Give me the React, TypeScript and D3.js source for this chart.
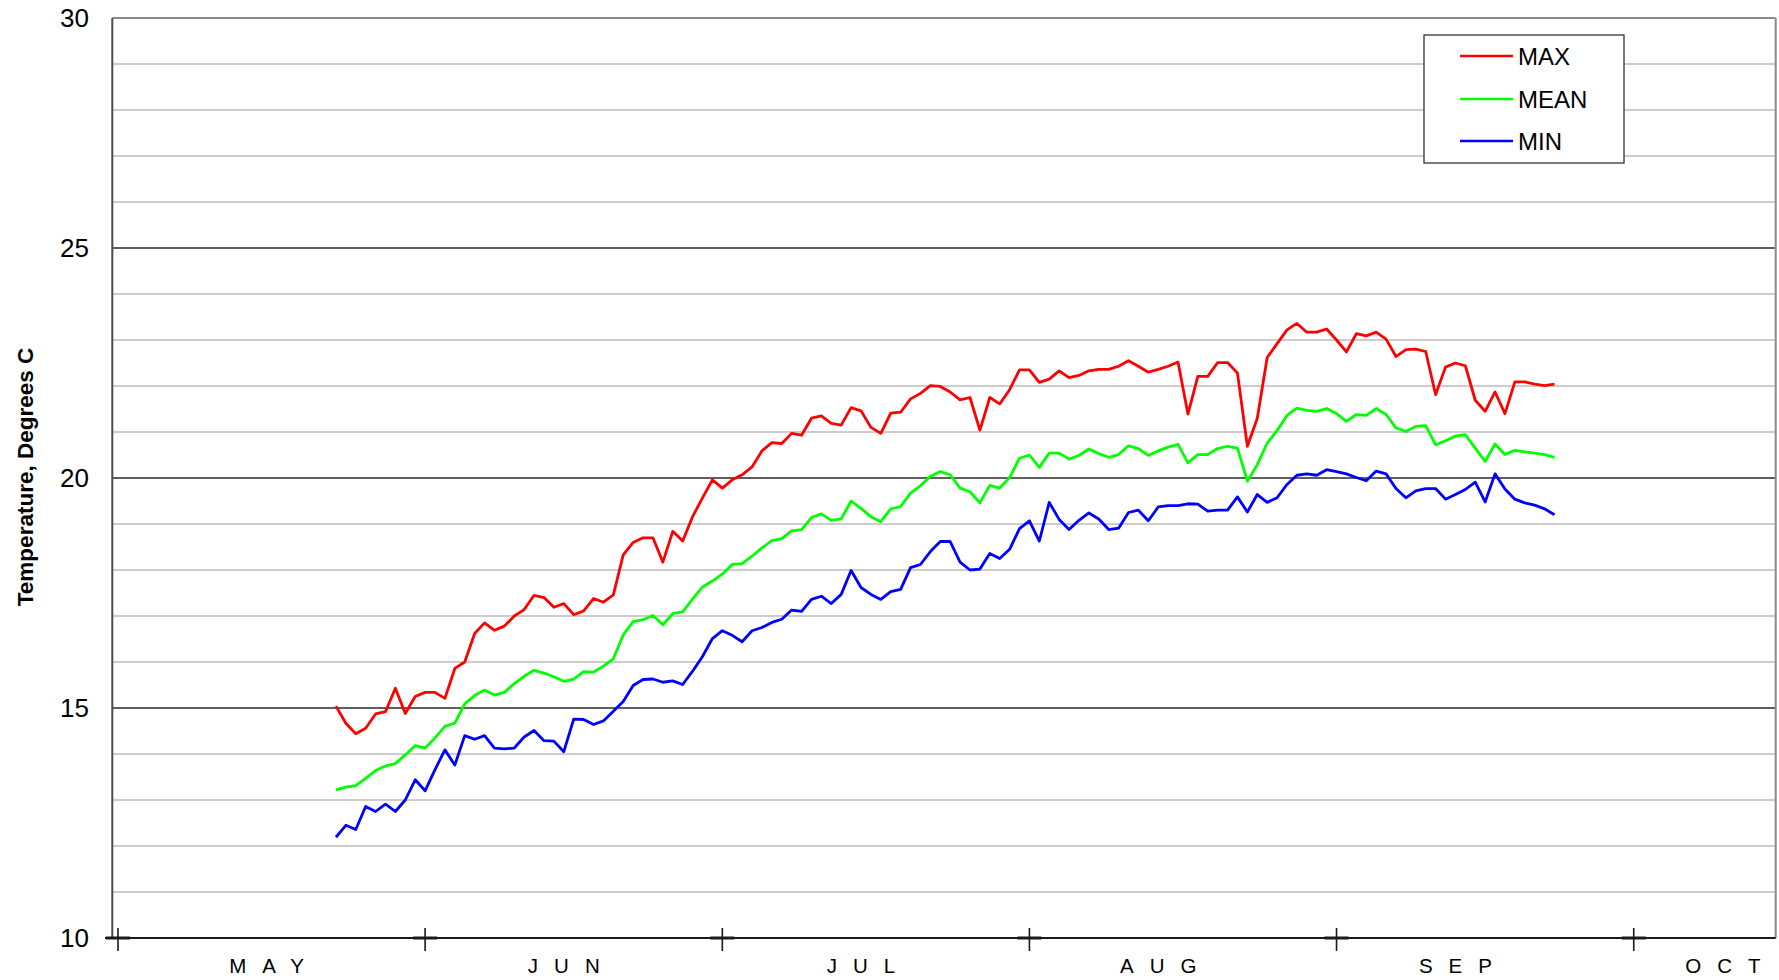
import React from "react";
import * as d3 from "d3";

// Day offsets are counted from May 1 (day 0). Data starts May 23.
const FIRST_DAY = 22;

const MAX_T = [
  15.04, 14.67, 14.44, 14.56, 14.87, 14.92, 15.43, 14.88, 15.25, 15.34,
  15.34, 15.21, 15.86, 16.0, 16.62, 16.85, 16.69, 16.78, 17.0, 17.14,
  17.45, 17.4, 17.19, 17.27, 17.03, 17.11, 17.38, 17.3, 17.46, 18.33,
  18.6, 18.7, 18.7, 18.17, 18.84, 18.63, 19.16, 19.57, 19.96, 19.78,
  19.96, 20.07, 20.24, 20.59, 20.77, 20.75, 20.97, 20.93, 21.3, 21.35,
  21.19, 21.15, 21.53, 21.46, 21.1, 20.97, 21.41, 21.43, 21.72, 21.84,
  22.01, 21.99, 21.87, 21.7, 21.75, 21.04, 21.75, 21.61, 21.92, 22.35,
  22.35, 22.08, 22.15, 22.33, 22.18, 22.23, 22.33, 22.36, 22.36, 22.43,
  22.55, 22.43, 22.3, 22.36, 22.43, 22.52, 21.39, 22.21, 22.21, 22.51,
  22.51, 22.28, 20.69, 21.3, 22.62, 22.92, 23.22, 23.36, 23.17, 23.17,
  23.24, 23.0, 22.74, 23.14, 23.09, 23.17, 23.02, 22.64, 22.79, 22.8,
  22.75, 21.81, 22.41, 22.5, 22.44, 21.69, 21.45, 21.87, 21.4, 22.09,
  22.09, 22.04, 22.01, 22.04,
];

const MEAN_T = [
  13.22, 13.28, 13.31, 13.47, 13.64, 13.74, 13.79, 13.98, 14.18, 14.13,
  14.35, 14.6, 14.67, 15.09, 15.27, 15.39, 15.28, 15.34, 15.53, 15.69,
  15.82, 15.76, 15.68, 15.58, 15.63, 15.79, 15.78, 15.91, 16.07, 16.59,
  16.88, 16.92, 17.01, 16.81, 17.05, 17.09, 17.37, 17.63, 17.76, 17.91,
  18.12, 18.14, 18.3, 18.48, 18.64, 18.68, 18.85, 18.88, 19.14, 19.22,
  19.08, 19.11, 19.5, 19.34, 19.16, 19.05, 19.33, 19.38, 19.67, 19.83,
  20.04, 20.14, 20.07, 19.78, 19.7, 19.46, 19.84, 19.78, 20.01, 20.43,
  20.5, 20.23, 20.54, 20.54, 20.41, 20.49, 20.63, 20.53, 20.45, 20.51,
  20.7, 20.64, 20.49, 20.59, 20.67, 20.73, 20.33, 20.51, 20.51, 20.64,
  20.69, 20.65, 19.93, 20.29, 20.76, 21.03, 21.36, 21.52, 21.47, 21.45,
  21.51, 21.4, 21.23, 21.38, 21.36, 21.51, 21.38, 21.09, 21.01, 21.12,
  21.14, 20.72, 20.81, 20.91, 20.94, 20.65, 20.36, 20.74, 20.51, 20.6,
  20.57, 20.54, 20.51, 20.45,
];

const MIN_T = [
  12.19, 12.45, 12.36, 12.86, 12.75, 12.91, 12.75, 13.0, 13.44, 13.2,
  13.66, 14.09, 13.76, 14.4, 14.32, 14.4, 14.13, 14.11, 14.13, 14.37,
  14.51, 14.29, 14.28, 14.05, 14.76, 14.75, 14.64, 14.72, 14.93, 15.14,
  15.49, 15.62, 15.63, 15.56, 15.59, 15.51, 15.8, 16.12, 16.51, 16.68,
  16.58, 16.44, 16.68, 16.75, 16.86, 16.93, 17.13, 17.1, 17.36, 17.43,
  17.27, 17.47, 17.99, 17.62, 17.47, 17.36, 17.53, 17.58, 18.05, 18.12,
  18.4, 18.62, 18.62, 18.17, 18.0, 18.02, 18.36, 18.25, 18.45, 18.9,
  19.07, 18.63, 19.47, 19.1, 18.88, 19.08, 19.24, 19.11, 18.88, 18.91,
  19.25, 19.3, 19.07, 19.37, 19.4, 19.4, 19.44, 19.43, 19.28, 19.3,
  19.3, 19.59, 19.26, 19.64, 19.47, 19.57, 19.86, 20.06, 20.09, 20.06,
  20.18, 20.14, 20.09, 20.01, 19.94, 20.15, 20.09, 19.77, 19.57, 19.72,
  19.77, 19.77, 19.54, 19.64, 19.75, 19.91, 19.48, 20.09, 19.76, 19.54,
  19.46, 19.41, 19.33, 19.2,
];

const MONTH_LABELS = ["MAY", "JUN", "JUL", "AUG", "SEP", "OCT"];
const MONTH_START_DAYS = [0, 31, 61, 92, 123, 153];
const MONTH_LABEL_DAYS = [15, 45, 75, 105, 135, 162];
const Y_TICKS = [10, 15, 20, 25, 30];
const Y_MINOR = d3.range(11, 30).filter((v) => v % 5 !== 0);

const SERIES = [
  { name: "MAX", values: MAX_T, color: "#ff0000" },
  { name: "MEAN", values: MEAN_T, color: "#00ff00" },
  { name: "MIN", values: MIN_T, color: "#0000ff" },
];

const W = 1779;
const H = 980;
const PL = 112.3;
const PR = 1775.7;
const PT = 18;
const PB = 938;

const FONT = "'Liberation Sans', Arial, Helvetica, sans-serif";

export default function App() {
  const x = d3.scaleLinear().domain([-0.575, 167.33]).range([PL, PR]);
  const y = d3.scaleLinear().domain([10, 30]).range([PB, PT]);

  const line = d3
    .line<number>()
    .x((_, i) => x(FIRST_DAY + i))
    .y((v) => y(v));

  const legendX = 1424;
  const legendY = 35;
  const legendW = 200;
  const legendH = 128;
  const legendRows = [56, 99, 141];

  return (
    <svg
      width={W}
      height={H}
      style={{ position: "absolute", left: 0, top: 0, display: "block", background: "#fff" }}
      fontFamily={FONT}
    >
      <rect x={0} y={0} width={W} height={H} fill="#fff" />
      {/* minor gridlines */}
      {Y_MINOR.map((v) => (
        <line key={"m" + v} x1={PL} x2={PR} y1={y(v)} y2={y(v)} stroke="#bdbdbd" strokeWidth={1.6} />
      ))}
      {/* major gridlines */}
      {Y_TICKS.filter((v) => v !== 10 && v !== 30).map((v) => (
        <line key={"M" + v} x1={PL} x2={PR} y1={y(v)} y2={y(v)} stroke="#2a2a2a" strokeWidth={1.3} />
      ))}
      {/* plot frame */}
      <line x1={PL} x2={PR} y1={PT} y2={PT} stroke="#8a8a8a" strokeWidth={2} />
      <line x1={PR} x2={PR} y1={PT} y2={PB} stroke="#8a8a8a" strokeWidth={2} />
      <line x1={PL} x2={PL} y1={PT} y2={PB} stroke="#4a4a4a" strokeWidth={2} />
      <line x1={105} x2={PR} y1={PB} y2={PB} stroke="#1a1a1a" strokeWidth={2} />

      {/* month ticks */}
      {MONTH_START_DAYS.map((d) => (
        <g key={"t" + d}>
          <line x1={x(d)} x2={x(d)} y1={PB - 10} y2={PB + 13} stroke="#1a1a1a" strokeWidth={1.6} />
          <line x1={x(d) - 12} x2={x(d) + 12} y1={PB} y2={PB} stroke="#1a1a1a" strokeWidth={3} />
        </g>
      ))}
      {MONTH_LABELS.map((m, i) => (
        <text
          key={m}
          x={x(MONTH_LABEL_DAYS[i])}
          y={PB + 35}
          fontSize={20.5}
          textAnchor="middle"
          letterSpacing={16}
          dx={8}
          fill="#000"
        >
          {m}
        </text>
      ))}

      {/* y labels */}
      {Y_TICKS.map((v) => (
        <text key={"y" + v} x={89} y={y(v)} dy="0.36em" fontSize={26} textAnchor="end" fill="#000">
          {v}
        </text>
      ))}
      <text
        transform={`translate(33,477) rotate(-90)`}
        fontSize={22.5}
        fontWeight="bold"
        textAnchor="middle"
        fill="#000"
      >
        Temperature, Degrees C
      </text>

      {/* series */}
      {SERIES.map((s) => (
        <path key={s.name} d={line(s.values) || ""} fill="none" stroke={s.color} strokeWidth={2.8} strokeLinejoin="round" />
      ))}

      {/* legend */}
      <rect x={legendX} y={legendY} width={legendW} height={legendH} fill="#fff" stroke="#333" strokeWidth={1.3} />
      {SERIES.map((s, i) => (
        <g key={"lg" + s.name}>
          <line x1={1460} x2={1513} y1={legendRows[i]} y2={legendRows[i]} stroke={s.color} strokeWidth={2.6} />
          <text x={1518} y={legendRows[i]} dy="0.36em" fontSize={24} fill="#000">
            {s.name}
          </text>
        </g>
      ))}
    </svg>
  );
}
